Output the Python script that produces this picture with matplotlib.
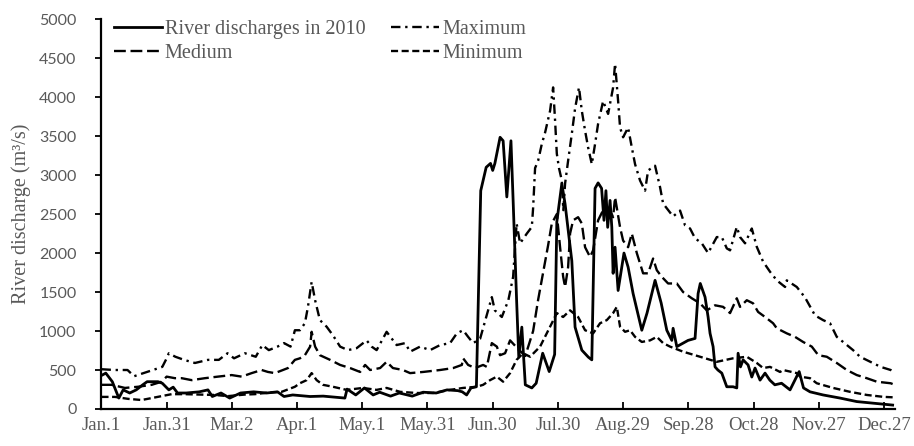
import matplotlib
matplotlib.use("Agg")
import matplotlib.pyplot as plt

# day of year (0 = Jan.1) and discharge (m3/s)
days_2010 = [0, 2, 5, 8, 10, 13, 16, 19, 21, 26, 28, 31, 33, 35, 39, 45, 49, 51, 55, 59,
             64, 70, 76, 81, 84, 88, 96, 102, 112, 113, 117, 121, 125, 128, 133, 137, 143, 148, 154, 159,
             164, 166, 168, 170, 172.5, 174.5, 177, 179, 180, 181, 183.4, 184.8, 186.5, 188.4, 189.4, 191, 192, 193.4, 195, 198,
             200, 203, 206, 208.5, 209.5, 211.8, 213.3, 216.4, 217.9, 221, 224, 225.6, 227.1, 228.5, 230.1, 231.2, 232.1, 232.9, 234, 234.8,
             235.4, 236.3, 237.7, 240.4, 242.3, 244.6, 248.6, 251, 254.7, 257.5, 260.1, 262.4, 263, 264.7, 267.6, 269.9, 273.1, 274.5, 275.5, 277.7,
             279.1, 280, 281.4, 282.3, 283.6, 285.4, 287.7, 290.6, 292.3, 292.9, 294, 295.2, 297.5, 299.2, 300.7, 303, 305.3, 307.5, 309.8, 312.9,
             316.8, 321, 323, 326, 332, 339.8, 347.5, 355, 364]
flow_2010 = [430, 460, 350, 140, 245, 205, 245, 310, 350, 350, 330, 245, 280, 205, 205, 220, 245, 160, 205, 140,
             205, 220, 205, 220, 160, 180, 160, 165, 140, 255, 180, 270, 180, 215, 165, 205, 165, 215, 205, 245,
             235, 220, 180, 270, 285, 2800, 3100, 3150, 3060, 3150, 3485, 3440, 2720, 3440, 2675, 1395, 665, 1050, 310, 270,
             330, 715, 480, 700, 2400, 2890, 2630, 1900, 1050, 755, 665, 630, 2830, 2900, 2830, 2420, 2800, 2330, 2675, 2330,
             1740, 2075, 1520, 2000, 1820, 1480, 1010, 1230, 1650, 1360, 1010, 880, 1035, 800, 845, 880, 905, 1480, 1610, 1435,
             1180, 970, 800, 540, 500, 460, 285, 285, 270, 715, 540, 630, 565, 410, 525, 370, 460, 370, 310, 330,
             245, 480, 270, 220, 180, 140, 95, 75, 50]

days_max = [0, 6, 12, 15, 21, 28, 30, 31, 34, 38, 43, 49, 54, 58, 61, 66, 71, 74, 77, 81,
            84, 87, 89, 91.3, 93.6, 95, 96.7, 98.3, 100.5, 103.6, 106.5, 109.8, 113.4, 117.4, 122, 124.3, 126.6, 131.2, 135.8, 139.7,
            142, 146.6, 151.2, 155.8, 160.4, 163.5, 166.4, 168.7, 171, 174.2, 178.8, 179.6, 181, 184.2, 187.2, 189.4, 191, 192.6, 195.7, 198,
            198.6, 199.5, 200.9, 202.6, 204.1, 206.4, 207.8, 208.7, 209.5, 210.5, 211.8, 212.5, 213.3, 214.7, 216.4, 217.9, 219.7, 221, 222.5, 223.9,
            225.6, 227.1, 228.5, 230.8, 233.1, 235.4, 236.3, 237.7, 238.6, 240, 242.3, 244, 245.5, 247.8, 250.1, 251.5, 254.7, 257, 258.4, 263,
            266.2, 268.5, 270.8, 273.1, 276.2, 279.1, 283.1, 285.4, 287.7, 289.2, 292.3, 293.8, 296.1, 299.2, 301.5, 304.4, 307.6, 310.7, 314.5, 315.3,
            319.9, 323.7, 328.3, 332, 335.2, 338.3, 341.2, 345.8, 349, 353.7, 358.5, 363.1, 364]
flow_max = [510, 500, 500, 420, 475, 540, 650, 715, 670, 630, 590, 630, 630, 715, 650, 715, 670, 820, 755, 800,
            845, 800, 1010, 1010, 1100, 1310, 1630, 1395, 1140, 1055, 945, 800, 755, 780, 880, 800, 755, 990, 820, 845,
            735, 800, 755, 820, 845, 970, 1010, 925, 845, 900, 1355, 1435, 1265, 1180, 1395, 1695, 2380, 2125, 2250, 2335,
            2580, 3090, 3185, 3400, 3545, 3825, 4125, 3700, 3275, 3090, 2930, 2550, 2890, 3185, 3530, 3855, 4125, 3825, 3570, 3355,
            3140, 3400, 3660, 3950, 3785, 4125, 4430, 3950, 3610, 3485, 3610, 3355, 3140, 2930, 2800, 3060, 3120, 2845, 2635, 2470,
            2545, 2355, 2315, 2190, 2125, 2000, 2205, 2205, 2060, 2035, 2335, 2205, 2125, 2315, 2080, 1890, 1760, 1650, 1565, 1650,
            1565, 1430, 1200, 1140, 1100, 925, 860, 755, 670, 605, 540, 500, 480]

days_med = [0, 4.7, 10.8, 16.8, 23.1, 27.7, 30, 33.8, 36.9, 41.5, 47.6, 53.6, 59.9, 64.5, 69.1, 73.7, 76.6, 79.8, 83.5, 85.8,
            89, 91.3, 93.6, 96, 96.7, 98.3, 100.5, 105.2, 109.8, 114.4, 119, 121.3, 123.6, 128.2, 131.2, 134.1, 138.7, 142, 148, 155.8,
            161.8, 165.8, 166.4, 168.7, 171.9, 175.6, 177.3, 179.6, 181.9, 183.4, 185.7, 188, 192, 195, 198.6, 200.9, 203.2, 205.5, 207.2, 209.5,
            211, 212.4, 213.3, 214.7, 215.6, 217, 219.3, 221, 222.5, 224.8, 226.2, 228.5, 230.8, 234, 235.4, 236.3, 238.6, 240, 242.3, 244,
            246.3, 249.2, 251.5, 253.8, 255.5, 257.8, 260.7, 264.7, 267.6, 271.6, 275.4, 278.5, 282.3, 286, 289.2, 292.3, 293.8, 296.9, 299.8, 302.1,
            305.3, 309, 310.7, 315.3, 319.1, 322.8, 326.8, 329.8, 333.7, 338.3, 342.9, 347.5, 352.1, 356.7, 363.1, 364]
flow_med = [310, 310, 270, 285, 310, 350, 415, 395, 395, 370, 395, 415, 435, 415, 460, 500, 475, 460, 500, 525,
            630, 650, 690, 800, 990, 800, 690, 630, 565, 525, 475, 565, 500, 525, 605, 525, 500, 460, 475, 500,
            525, 565, 650, 565, 525, 565, 540, 845, 800, 690, 715, 880, 760, 680, 1000, 1400, 1750, 2100, 2380, 2500,
            2075, 1700, 1565, 1820, 2250, 2420, 2460, 2380, 2075, 1950, 2035, 2420, 2550, 2550, 2460, 2715, 2330, 2160, 2075, 2250,
            2000, 1740, 1740, 1930, 1780, 1695, 1610, 1610, 1500, 1420, 1355, 1265, 1330, 1310, 1230, 1420, 1310, 1395, 1355, 1245,
            1180, 1100, 1035, 970, 925, 860, 800, 690, 670, 590, 500, 435, 395, 350, 330, 320]

days_min = [0, 6.2, 12.2, 18.5, 23.1, 27.7, 32.3, 38.4, 45, 52, 58.2, 66, 70.6, 76.6, 82.9, 89, 91.3, 94.4, 96.7, 99,
            101.9, 106.5, 112.8, 120.3, 126.6, 131.2, 137.4, 145, 152.6, 160.4, 166.4, 172.7, 175.6, 178.8, 181.9, 184.8, 188, 191, 194, 197.2,
            201.8, 206.4, 209.5, 212.4, 215.6, 219.3, 222.5, 226.2, 229.4, 232.5, 235.4, 237.1, 238.6, 240.9, 243.2, 245.5, 248.6, 252.4, 255.5, 258.4,
            261.6, 267.6, 275.4, 283.1, 290.6, 296.9, 301.5, 304.4, 307.6, 312.2, 313.6, 319.9, 321.4, 326, 329.1, 336.6, 344.4, 352.1, 359.9, 364]
flow_min = [155, 155, 130, 115, 140, 165, 190, 190, 185, 180, 165, 185, 190, 210, 220, 285, 330, 370, 460, 370,
            310, 285, 245, 270, 245, 270, 220, 205, 205, 245, 270, 285, 310, 370, 415, 350, 460, 630, 715, 670,
            800, 1055, 1230, 1180, 1265, 1180, 1010, 970, 1100, 1140, 1230, 1310, 1055, 990, 1010, 925, 860, 880, 925, 845,
            800, 735, 670, 605, 650, 670, 590, 525, 540, 475, 500, 460, 415, 395, 330, 270, 220, 180, 155, 150]

tick_days = [0, 30, 60, 90, 120, 150, 180, 210, 240, 270, 300, 330, 360]
tick_labels = ["Jan.1", "Jan.31", "Mar.2", "Apr.1", "May.1", "May.31", "Jun.30",
               "Jul.30", "Aug.29", "Sep.28", "Oct.28", "Nov.27", "Dec.27"]

grey = "#595959"
plt.rcParams["font.family"] = ["Liberation Serif", "DejaVu Serif"]

fig = plt.figure(figsize=(9.14, 4.46), dpi=100)
ax = fig.add_axes([0.111, 0.083, 0.868, 0.874])

l1, = ax.plot(days_2010, flow_2010, color="black", lw=2.0, label="River discharges in 2010")
l2, = ax.plot(days_med, flow_med, color="black", lw=1.7, linestyle=(0, (5, 2)), label="Medium")
l3, = ax.plot(days_max, flow_max, color="black", lw=1.7, linestyle=(0, (4, 2, 1, 2)), label="Maximum")
l4, = ax.plot(days_min, flow_min, color="black", lw=1.7, linestyle=(0, (3, 1.5)), label="Minimum")

ax.set_xlim(0, 365)
ax.set_ylim(0, 5000)
ax.set_yticks(range(0, 5001, 500))
ax.set_xticks(tick_days)
ax.set_xticklabels(tick_labels, fontsize=13.5, color=grey)
for t in ax.get_yticklabels():
    t.set_family("Lato")
    t.set_fontsize(11.5)
    t.set_color(grey)
ax.tick_params(axis="x", direction="in", length=5, width=1.3, pad=6)
ax.tick_params(axis="y", direction="out", length=4, width=1.3, pad=14)
ax.set_ylabel("River discharge (m³/s)", fontsize=14.5, color=grey, labelpad=6)

for side in ["top", "right"]:
    ax.spines[side].set_visible(False)
for side in ["left", "bottom"]:
    ax.spines[side].set_linewidth(1.6)

ax.legend([l1, l2, l3, l4], [l.get_label() for l in [l1, l2, l3, l4]],
          ncol=2, loc="upper left", bbox_to_anchor=(0.0, 1.03), frameon=False,
          fontsize=14.5, labelcolor=grey, handlelength=2.4, handletextpad=0.15,
          columnspacing=1.25, labelspacing=0.25, borderpad=0.3, borderaxespad=0.3)

fig.savefig("out.png", dpi=100)
